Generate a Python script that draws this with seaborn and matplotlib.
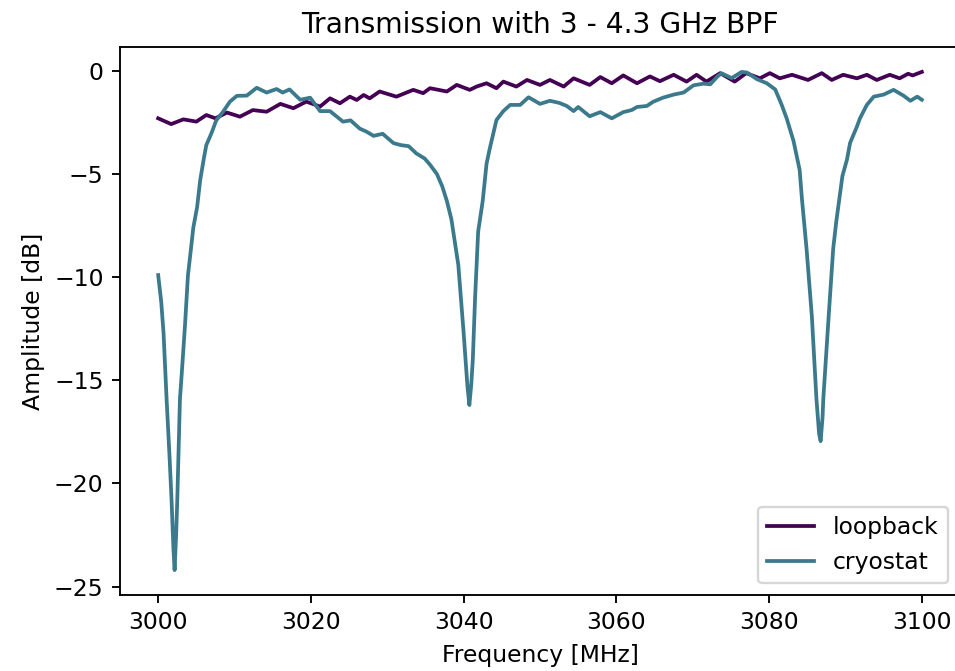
import matplotlib
matplotlib.use("Agg")
import matplotlib.pyplot as plt
import seaborn as sns
import pandas as pd

# ---- data ----
loop_freq = [3000.0, 3001.7, 3003.3, 3005.0, 3006.3, 3007.5, 3009.0, 3010.7, 3012.4, 3014.2,
             3016.0, 3017.7, 3019.4, 3021.2, 3022.5, 3023.8, 3025.1, 3026.0, 3026.9, 3027.7,
             3029.0, 3031.2, 3033.4, 3034.7, 3035.6, 3037.8, 3039.1, 3040.8, 3041.7, 3043.0,
             3044.3, 3045.2, 3046.9, 3048.3, 3050.0, 3051.3, 3053.1, 3054.4, 3056.5, 3057.9,
             3059.4, 3060.9, 3062.7, 3064.4, 3065.7, 3067.5, 3069.2, 3070.5, 3071.8, 3073.6,
             3075.5, 3077.0, 3078.8, 3080.1, 3081.4, 3083.0, 3085.1, 3086.9, 3088.2, 3089.7,
             3091.5, 3092.8, 3094.1, 3095.8, 3097.1, 3098.2, 3098.8, 3100.0]
loop_amp = [-2.30, -2.58, -2.35, -2.46, -2.14, -2.30, -2.02, -2.22, -1.90, -1.98,
            -1.60, -1.81, -1.49, -1.73, -1.33, -1.57, -1.25, -1.41, -1.17, -1.33,
            -1.00, -1.25, -0.92, -1.08, -0.84, -1.00, -0.68, -0.92, -0.76, -0.60,
            -0.84, -0.52, -0.76, -0.44, -0.68, -0.44, -0.76, -0.36, -0.68, -0.30,
            -0.60, -0.22, -0.60, -0.27, -0.50, -0.19, -0.52, -0.19, -0.52, -0.11,
            -0.52, -0.11, -0.36, -0.11, -0.36, -0.19, -0.44, -0.11, -0.44, -0.19,
            -0.36, -0.19, -0.44, -0.19, -0.36, -0.14, -0.22, -0.05]

cryo_freq = [3000.0, 3000.4, 3000.7, 3001.1, 3001.5, 3001.75, 3002.0, 3002.15, 3002.35, 3002.5,
             3002.85, 3003.1, 3003.5, 3003.9, 3004.3, 3004.6, 3005.1, 3005.5, 3006.0, 3006.3,
             3007.0, 3007.6, 3008.5, 3009.4, 3010.3, 3011.6, 3012.9, 3014.2, 3015.5, 3016.3,
             3017.2, 3018.6, 3019.9, 3021.2, 3022.5, 3024.2, 3025.2, 3026.4, 3027.3, 3028.2,
             3029.4, 3030.8, 3031.8, 3032.8, 3033.8, 3034.9, 3035.6, 3036.5, 3037.2, 3037.8,
             3038.4, 3039.3, 3040.0, 3040.5, 3040.75, 3041.0, 3041.2, 3041.5, 3041.9, 3042.5,
             3043.0, 3043.4, 3044.3, 3045.2, 3046.1, 3047.4, 3048.5, 3050.0, 3051.3, 3052.5,
             3053.5, 3054.4, 3055.0, 3056.5, 3057.9, 3059.4, 3060.9, 3062.0, 3062.7, 3064.0,
             3064.8, 3066.1, 3067.5, 3068.8, 3070.1, 3071.4, 3072.3, 3073.3, 3073.8, 3075.1,
             3076.4, 3077.1, 3077.6, 3078.4, 3079.7, 3080.8, 3081.6, 3082.3, 3083.2, 3084.0,
             3084.3, 3084.9, 3085.6, 3086.2, 3086.55, 3086.75, 3087.0, 3087.1, 3087.8, 3088.4,
             3088.8, 3089.2, 3089.6, 3090.2, 3090.6, 3091.5, 3091.9, 3092.8, 3093.7, 3095.0,
             3096.3, 3097.6, 3098.5, 3099.4, 3100.0]
cryo_amp = [-9.9, -11.2, -12.7, -15.9, -18.8, -20.8, -23.2, -24.2, -22.5, -20.8,
            -15.9, -14.6, -12.4, -9.9, -8.6, -7.6, -6.6, -5.3, -4.2, -3.6,
            -3.0, -2.4, -1.98, -1.49, -1.21, -1.2, -0.82, -1.05, -0.88, -1.05,
            -0.9, -1.4, -1.3, -1.95, -1.95, -2.46, -2.4, -2.8, -2.95, -3.15,
            -3.05, -3.5, -3.6, -3.65, -4.0, -4.25, -4.55, -5.0, -5.6, -6.3,
            -7.2, -9.4, -12.7, -15.3, -16.2, -15.2, -14.0, -11.0, -7.8, -6.3,
            -4.5, -3.8, -2.38, -1.95, -1.65, -1.65, -1.28, -1.6, -1.45, -1.55,
            -1.7, -1.95, -1.75, -2.2, -2.0, -2.3, -2.0, -1.9, -1.75, -1.7,
            -1.5, -1.3, -1.15, -1.05, -0.7, -0.62, -0.65, -0.25, -0.12, -0.35,
            -0.05, -0.08, -0.2, -0.4, -0.6, -0.9, -1.6, -2.3, -3.4, -4.8,
            -6.2, -8.6, -11.9, -15.9, -17.6, -17.95, -16.8, -15.9, -11.9, -8.6,
            -7.3, -6.2, -5.1, -4.3, -3.5, -2.7, -2.3, -1.65, -1.25, -1.15,
            -0.92, -1.2, -1.45, -1.25, -1.4]

series_names = ["loopback", "cryostat"]
series_colors = ["#440154", "#3b7a8c"]

df = pd.concat([
    pd.DataFrame({"Frequency": loop_freq, "Amplitude": loop_amp, "series": series_names[0]}),
    pd.DataFrame({"Frequency": cryo_freq, "Amplitude": cryo_amp, "series": series_names[1]}),
], ignore_index=True)

DPI = 169
fig = plt.figure(figsize=(955 / DPI, 671 / DPI), dpi=DPI)
ax = fig.add_axes([120 / 955, 76 / 671, 840 / 955, 548 / 671])

sns.lineplot(data=df, x="Frequency", y="Amplitude", hue="series",
             hue_order=series_names, palette=dict(zip(series_names, series_colors)),
             estimator=None, sort=False, linewidth=1.6, ax=ax)

ax.spines["right"].set_visible(False)
ax.set_xticks([3000, 3020, 3040, 3060, 3080, 3100])
ax.set_yticks([0, -5, -10, -15, -20, -25])
ax.set_xlabel("Frequency [MHz]")
ax.set_ylabel("Amplitude [dB]")
ax.set_title("Transmission with 3 - 4.3 GHz BPF")
handles, labels = ax.get_legend_handles_labels()
ax.legend(handles, labels, loc="lower right")

fig.savefig("out.png", dpi=DPI)
